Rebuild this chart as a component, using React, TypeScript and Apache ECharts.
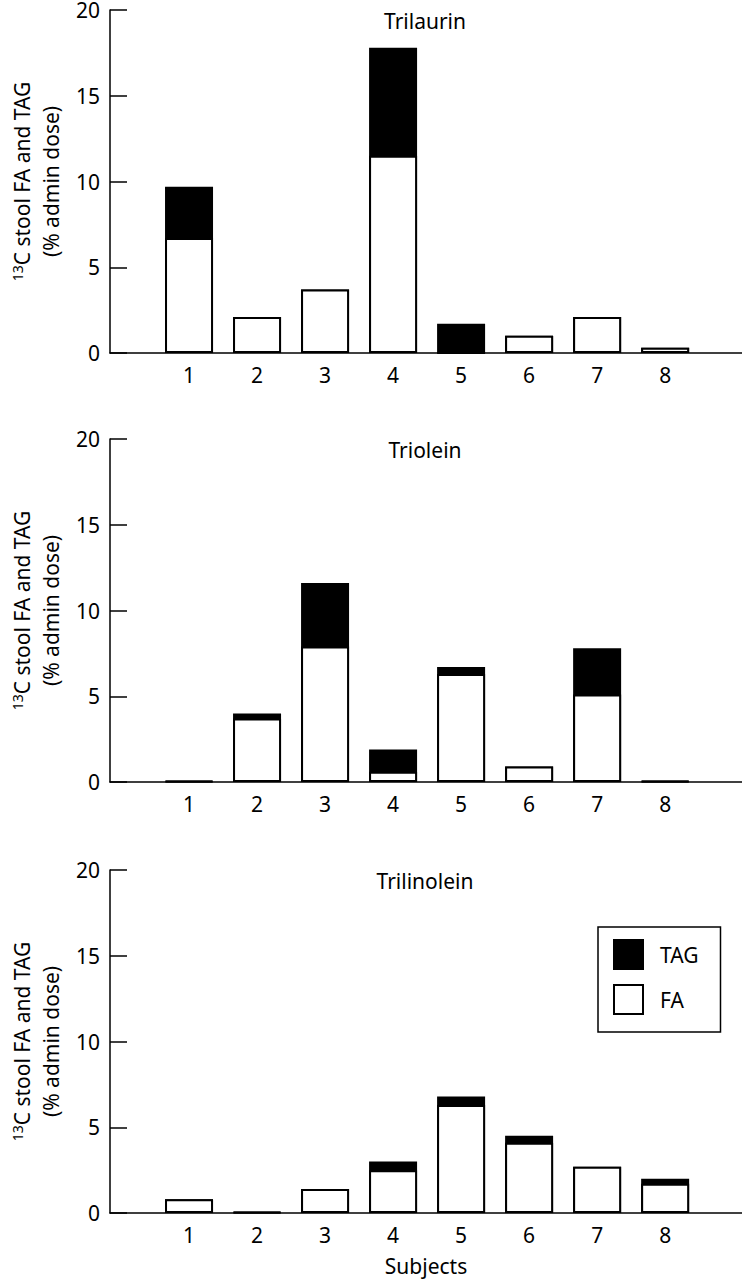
import React, { useEffect, useRef } from "react";
import * as echarts from "echarts";

const subjects = [1, 2, 3, 4, 5, 6, 7, 8];
const panelTitles = ["Trilaurin", "Triolein", "Trilinolein"];
const trilaurinFA = [6.7, 2.1, 3.7, 11.5, 0, 1.0, 2.1, 0.3];
const trilaurinTAG = [3.0, 0, 0, 6.3, 1.7, 0, 0, 0];
const trioleinFA = [0.05, 3.7, 7.9, 0.6, 6.3, 0.9, 5.1, 0.05];
const trioleinTAG = [0, 0.3, 3.7, 1.3, 0.4, 0, 2.7, 0];
const trilinoleinFA = [0.8, 0.05, 1.4, 2.5, 6.3, 4.1, 2.7, 1.7];
const trilinoleinTAG = [0, 0, 0, 0.5, 0.5, 0.4, 0, 0.3];
const yMin = 0;
const yMax = 20;
const yStep = 5;

const FONT = "Noto Sans";

export default function App() {
  const ref = useRef<HTMLDivElement>(null);
  useEffect(() => {
    if (!ref.current) return;
    const chart = echarts.init(ref.current, null, { renderer: "svg" });
    const faSets = [trilaurinFA, trioleinFA, trilinoleinFA];
    const tagSets = [trilaurinTAG, trioleinTAG, trilinoleinTAG];
    const tops = [10, 439, 870];
    const h = 343;
    const grids = tops.map((t) => ({
      left: 110,
      right: 0,
      top: t,
      height: h,
      containLabel: false,
      outerBoundsMode: "none",
    }));
    const xAxes = tops.map((_, i) => ({
      type: "value",
      gridIndex: i,
      min: -0.162,
      max: 9.13,
      axisLine: { show: true, onZero: false, lineStyle: { color: "#000", width: 1.5 } },
      axisTick: { show: false },
      splitLine: { show: false },
      axisLabel: {
        customValues: subjects,
        fontSize: 21,
        color: "#000",
        margin: 11,
        fontFamily: FONT,
      },
      name: i === 2 ? "Subjects" : "",
      nameLocation: "middle",
      nameGap: 42,
      nameTextStyle: { fontSize: 21, color: "#000", fontFamily: FONT },
    }));
    const yAxes = tops.map((_, i) => ({
      type: "value",
      gridIndex: i,
      min: yMin,
      max: yMax,
      interval: yStep,
      axisLine: { show: true, onZero: false, lineStyle: { color: "#000", width: 1.5 } },
      axisTick: { show: true, inside: true, length: 17, lineStyle: { color: "#000", width: 1.5 } },
      splitLine: { show: false },
      axisLabel: { fontSize: 21, color: "#000", margin: 10, fontFamily: FONT },
      name: "{sup|13}C stool FA and TAG\n(% admin dose)",
      nameLocation: "middle",
      nameRotate: 90,
      nameGap: 40,
      nameTextStyle: {
        fontSize: 21,
        color: "#000",
        fontFamily: FONT,
        lineHeight: 29,
        rich: {
          sup: { fontSize: 14, color: "#000", fontFamily: FONT, padding: [0, 0, 9, 0] },
        },
      },
    }));
    const series: any[] = [];
    for (let i = 0; i < 3; i++) {
      const fa = faSets[i];
      const tag = tagSets[i];
      series.push({
        name: "TAG",
        type: "bar",
        xAxisIndex: i,
        yAxisIndex: i,
        barWidth: 48,
        barGap: "-100%",
        data: subjects.map((s, j) => [s, +(fa[j] + tag[j]).toFixed(2)]),
        itemStyle: { color: "#000", borderColor: "#000", borderWidth: 2 },
      });
      series.push({
        name: "FA",
        type: "bar",
        xAxisIndex: i,
        yAxisIndex: i,
        barWidth: 48,
        barGap: "-100%",
        data: subjects.map((s, j) => [s, fa[j]]),
        itemStyle: { color: "#fff", borderColor: "#000", borderWidth: 2 },
      });
    }
    chart.setOption({
      animation: false,
      backgroundColor: "#fff",
      textStyle: { fontFamily: FONT },
      title: panelTitles.map((t, i) => ({
        text: t,
        left: 425,
        top: tops[i],
        textAlign: "center",
        padding: 0,
        textStyle: { fontSize: 21, fontWeight: "normal", color: "#000", fontFamily: FONT },
      })),
      legend: {
        data: ["TAG", "FA"],
        orient: "vertical",
        left: 598,
        top: 927,
        itemWidth: 29,
        itemHeight: 29,
        itemGap: 14,
        icon: "rect",
        padding: [12, 22, 17, 15],
        borderColor: "#000",
        borderWidth: 1.5,
        selectedMode: false,
        textStyle: { fontSize: 21, color: "#000", fontFamily: FONT, padding: [0, 0, 0, 12] },
      },
      grid: grids,
      xAxis: xAxes,
      yAxis: yAxes,
      series,
    });
    return () => chart.dispose();
  }, []);
  return (
    <div
      ref={ref}
      style={{ position: "absolute", left: 0, top: 0, width: 742, height: 1280, background: "#fff" }}
    />
  );
}
